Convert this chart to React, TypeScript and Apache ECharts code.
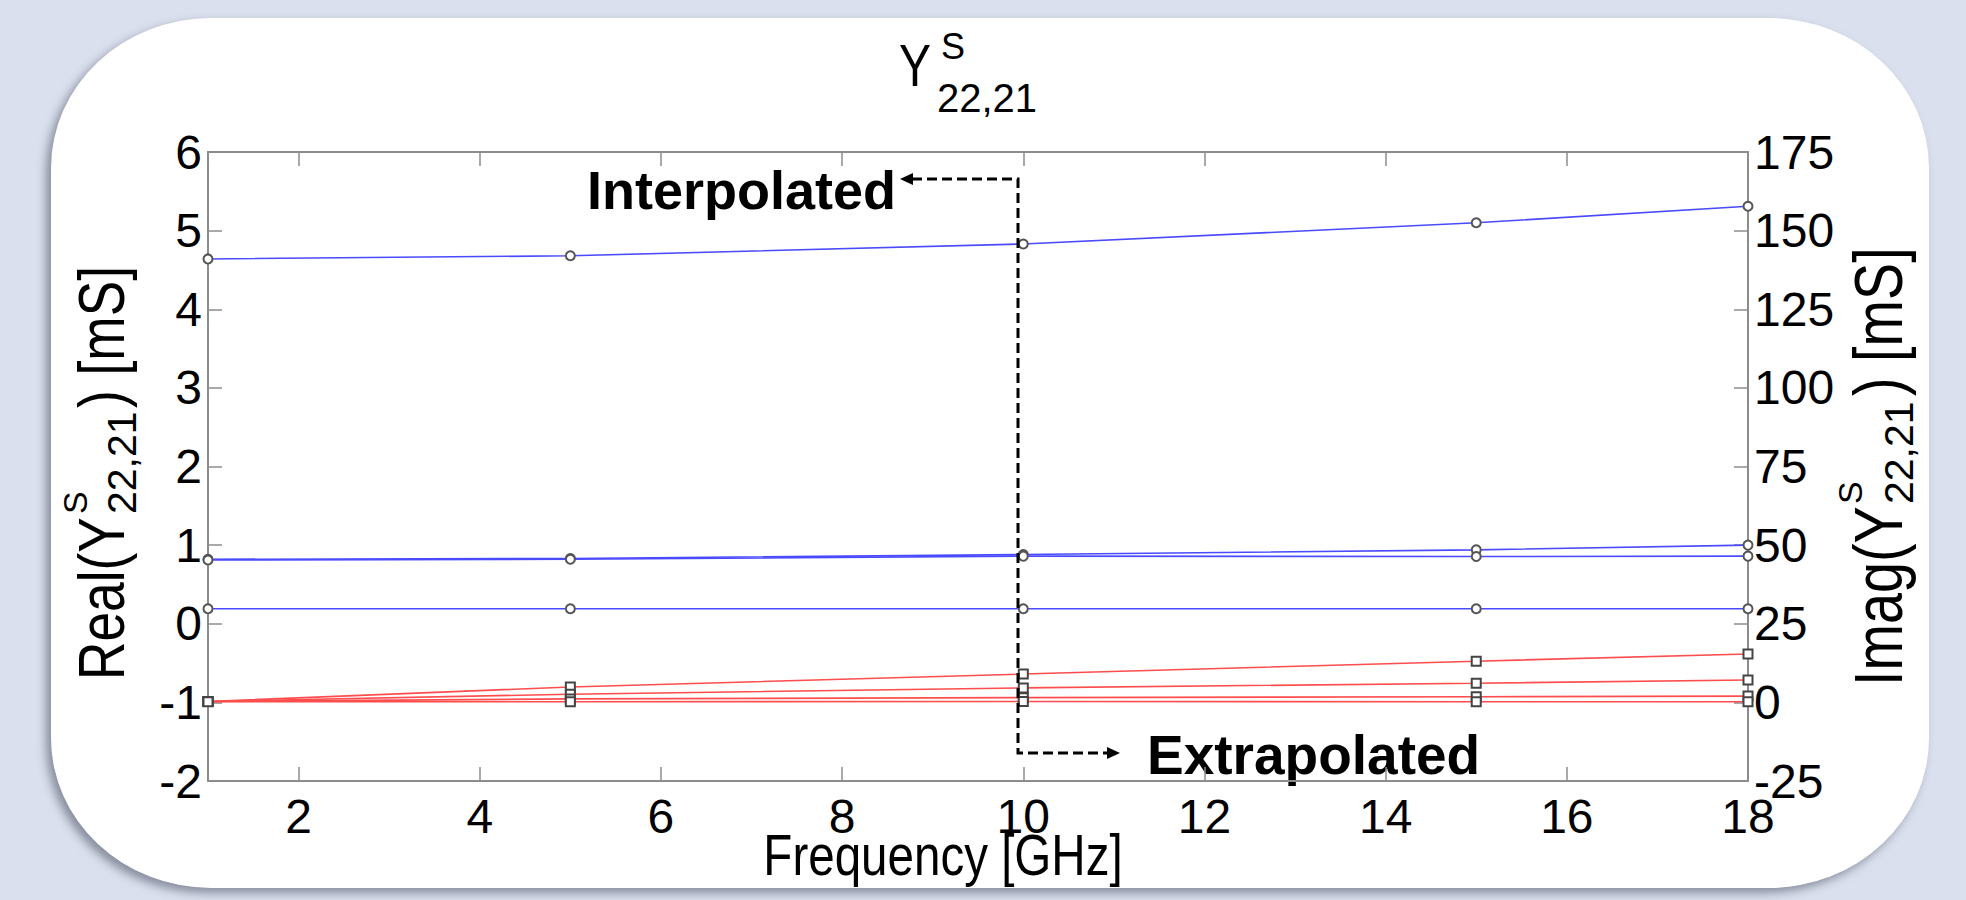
import React, { useEffect, useRef } from 'react';
import * as echarts from 'echarts';

// ---------- data ----------
const freqs = [1, 5, 10, 15, 18];
const xTicks = [2, 4, 6, 8, 10, 12, 14, 16, 18];

// Real part [mS] (left axis, blue, circles)
const realA = [4.64, 4.68, 4.83, 5.1, 5.31];
const realB = [0.82, 0.83, 0.88, 0.94, 1.0];
const realC = [0.81, 0.82, 0.86, 0.855, 0.86];
const realD = [0.19, 0.19, 0.19, 0.19, 0.19];

// Imag part [mS] (right axis, red, squares)
const imagA = [0.3, 4.9, 9.0, 13.1, 15.4];
const imagB = [0.3, 2.6, 4.6, 6.1, 7.1];
const imagC = [0.3, 1.1, 1.5, 1.8, 2.0];
const imagD = [0.2, 0.2, 0.3, 0.2, 0.2];

const FONT = "'Liberation Sans', Arial, Helvetica, sans-serif";

const pts = (ys: number[]) => freqs.map((f, i) => [f, ys[i]]);

const realSeries = [realA, realB, realC, realD].map((ys, i) => ({
  type: 'line',
  name: 'Real ' + (i + 1),
  xAxisIndex: 0,
  yAxisIndex: 0,
  data: pts(ys),
  symbol: 'emptyCircle',
  symbolSize: 9,
  lineStyle: { color: '#4a4aff', width: 1.6 },
  itemStyle: { color: '#555', borderColor: '#555', borderWidth: 1 },
  z: 3,
}));

const imagSeries = [imagA, imagB, imagC, imagD].map((ys, i) => ({
  type: 'line',
  name: 'Imag ' + (i + 1),
  xAxisIndex: 0,
  yAxisIndex: 1,
  data: pts(ys),
  symbol: 'emptyRect',
  symbolSize: 9,
  lineStyle: { color: '#ff4d4d', width: 1.6 },
  itemStyle: { color: '#444', borderColor: '#444', borderWidth: 1 },
  z: 3,
}));

const axisLineStyle = { color: '#8c8c8c', width: 2 };
const tickStyle = { color: '#8c8c8c', width: 1.5 };
const labelStyle = { fontSize: 48, color: '#000', fontFamily: FONT };

const txt = (
  text: string,
  x: number,
  y: number,
  size: number,
  opts: { sx?: number; bold?: boolean; align?: string } = {}
) => ({
  type: 'text',
  x,
  y,
  scaleX: opts.sx ?? 1,
  style: {
    text,
    x: 0,
    y: 0,
    fontSize: size,
    fontFamily: FONT,
    fontWeight: opts.bold ? 'bold' : 'normal',
    fill: '#000',
    align: opts.align ?? 'left',
    verticalAlign: 'middle',
  },
});

const NARROW = 0.82;

const graphic = [
  // title
  txt('Y', 899, 66, 60, { sx: 0.8 }),
  txt('S', 941, 46, 36),
  txt('22,21', 937, 98, 40),
  // x axis name
  txt('Frequency [GHz]', 943, 855, 58, { sx: NARROW, align: 'center' }),
  // left axis name
  {
    type: 'group',
    x: 102,
    y: 680,
    rotation: Math.PI / 2,
    children: [
      txt('Real(Y', 0, 0, 65, { sx: NARROW }),
      txt('S', 166, -27, 34),
      txt('22,21', 166, 20, 41),
      txt(') [mS]', 272, 0, 65, { sx: NARROW }),
    ],
  },
  // right axis name
  {
    type: 'group',
    x: 1878,
    y: 686,
    rotation: Math.PI / 2,
    children: [
      txt('Imag(Y', 0, 0, 68, { sx: NARROW }),
      txt('S', 182, -28, 34),
      txt('22,21', 182, 21, 41),
      txt(') [mS]', 290, 0, 68, { sx: NARROW }),
    ],
  },
  // annotations
  txt('Interpolated', 587, 190, 54, { bold: true }),
  txt('Extrapolated', 1147, 755, 55, { bold: true }),
  {
    type: 'polyline',
    shape: { points: [[912, 179], [1018, 179], [1018, 753], [1108, 753]] },
    style: { stroke: '#000', lineWidth: 3, lineDash: [10, 5], fill: null },
    z: 10,
  },
  {
    type: 'polygon',
    shape: { points: [[900, 179], [913, 173], [913, 185]] },
    style: { fill: '#000' },
    z: 10,
  },
  {
    type: 'polygon',
    shape: { points: [[1120, 753], [1107, 747], [1107, 759]] },
    style: { fill: '#000' },
    z: 10,
  },
];

const option = {
  animation: false,
  backgroundColor: 'transparent',
  grid: { left: 208, right: 218, top: 152, bottom: 119, containLabel: false },
  xAxis: [
    {
      type: 'value',
      min: 1,
      max: 18,
      position: 'bottom',
      axisLine: { show: true, onZero: false, lineStyle: axisLineStyle },
      axisTick: { show: true, inside: true, length: 14, customValues: xTicks, lineStyle: tickStyle },
      axisLabel: { ...labelStyle, customValues: xTicks, margin: 11 },
      splitLine: { show: false },
    },
    {
      type: 'value',
      min: 1,
      max: 18,
      position: 'top',
      axisLine: { show: true, onZero: false, lineStyle: axisLineStyle },
      axisTick: { show: true, inside: true, length: 14, customValues: xTicks, lineStyle: tickStyle },
      axisLabel: { show: false },
      splitLine: { show: false },
    },
  ],
  yAxis: [
    {
      type: 'value',
      min: -2,
      max: 6,
      interval: 1,
      position: 'left',
      axisLine: { show: true, onZero: false, lineStyle: axisLineStyle },
      axisTick: { show: true, inside: true, length: 14, lineStyle: tickStyle },
      axisLabel: { ...labelStyle, margin: 6 },
      splitLine: { show: false },
    },
    {
      type: 'value',
      min: -25,
      max: 175,
      interval: 25,
      position: 'right',
      axisLine: { show: true, onZero: false, lineStyle: axisLineStyle },
      axisTick: { show: true, inside: true, length: 14, lineStyle: tickStyle },
      axisLabel: { ...labelStyle, margin: 6 },
      splitLine: { show: false },
    },
  ],
  graphic,
  series: [...realSeries, ...imagSeries],
};

export default function App() {
  const ref = useRef<HTMLDivElement>(null);
  useEffect(() => {
    const chart = echarts.init(ref.current as HTMLDivElement, null, { renderer: 'svg' });
    chart.setOption(option as any);
    return () => chart.dispose();
  }, []);
  return (
    <div
      style={{
        position: 'fixed',
        left: 0,
        top: 0,
        width: 1966,
        height: 900,
        background: '#dae0ed',
        overflow: 'hidden',
      }}
    >
      <div
        style={{
          position: 'absolute',
          left: 51,
          top: 18,
          width: 1878,
          height: 870,
          background: '#ffffff',
          borderRadius: '160px / 150px',
          boxShadow: '-5px 5px 10px rgba(70,75,95,0.55)',
        }}
      />
      <div ref={ref} style={{ position: 'absolute', left: 0, top: 0, width: 1966, height: 900 }} />
    </div>
  );
}
